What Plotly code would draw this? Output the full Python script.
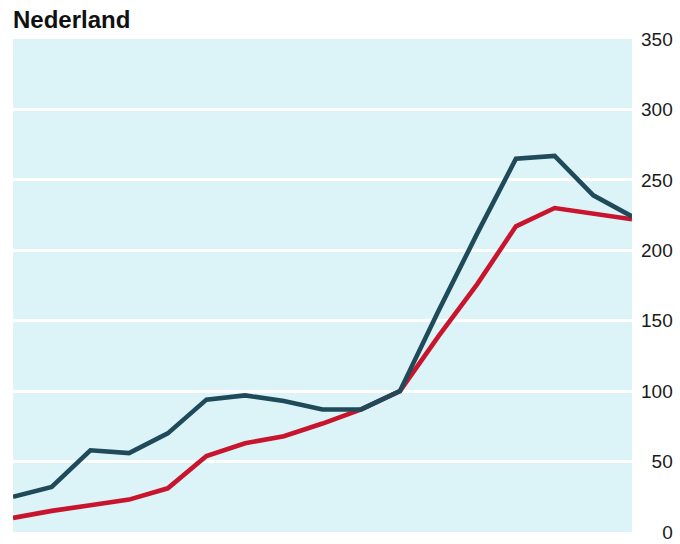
import plotly.graph_objects as go

periods = list(range(17))
dark_series = [25, 32, 58, 56, 70, 94, 97, 93, 87, 87, 100, 157, 212, 265, 267, 239, 224]
red_series = [10, 15, 19, 23, 31, 54, 63, 68, 77, 87, 100, 139, 176, 217, 230, 226, 222]
tick_values = [0, 50, 100, 150, 200, 250, 300, 350]
tick_labels = ["\u2007\u20070", "\u200750", "100", "150", "200", "250", "300", "350"]

fig = go.Figure()
fig.add_trace(go.Scatter(x=periods, y=red_series, mode="lines",
                         line=dict(color="#c8142c", width=4.6), hoverinfo="skip"))
fig.add_trace(go.Scatter(x=periods, y=dark_series, mode="lines",
                         line=dict(color="#1f4a5a", width=4.6), hoverinfo="skip"))

fig.update_layout(
    width=680, height=544,
    margin=dict(l=13, r=48, t=39, b=12, autoexpand=False),
    paper_bgcolor="white",
    plot_bgcolor="#dcf3f8",
    showlegend=False,
    font=dict(family="Liberation Sans, Arial, sans-serif", color="#1a1a1a"),
    title=dict(text="<b>Nederland</b>", x=13/680, xanchor="left", y=1-20/544, yanchor="middle",
               font=dict(size=24, color="#111111")),
    xaxis=dict(range=[0, 16], showgrid=False, zeroline=False, showticklabels=False,
               ticks="", showline=False, automargin=False),
    yaxis=dict(range=[0, 350], side="right", tickvals=tick_values, ticktext=tick_labels,
               showgrid=True, gridcolor="white", gridwidth=3, zeroline=False,
               showline=False, ticks="", tickfont=dict(size=19, color="#1a1a1a"),
               ticklabelstandoff=8, ticklabeloverflow="allow", automargin=False),
)

fig.write_html("out.html", config={"displayModeBar": False},
               post_script="document.body.style.margin='0';document.body.style.overflow='hidden';")
